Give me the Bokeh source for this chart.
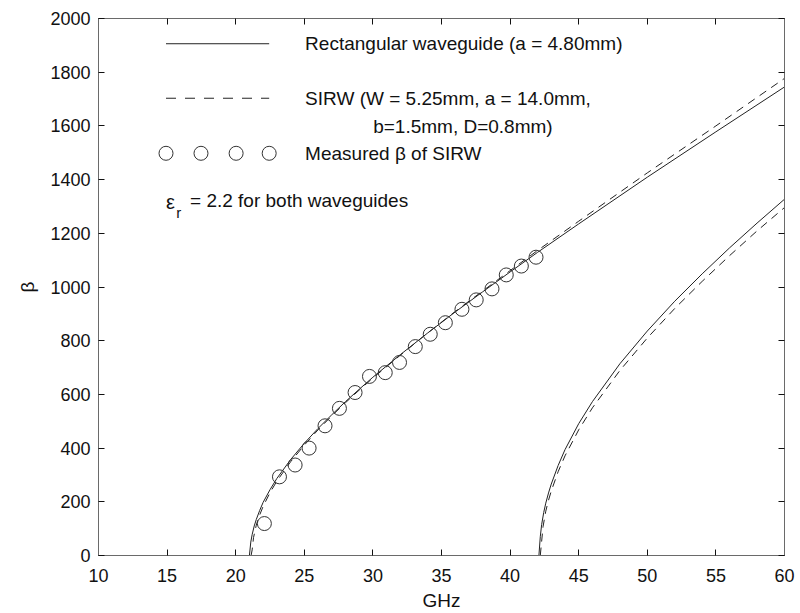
from bokeh.plotting import figure
from bokeh.models import Range1d, LinearAxis, FixedTicker, Label
from bokeh.embed import file_html
from bokeh.resources import INLINE

# ---------------- data ----------------
x_ticks = [10, 15, 20, 25, 30, 35, 40, 45, 50, 55, 60]
y_ticks = [0, 200, 400, 600, 800, 1000, 1200, 1400, 1600, 1800, 2000]

# Rectangular waveguide (a = 4.80mm), first mode
rect1_f = [21.0, 21.1, 21.2, 21.35, 21.5, 21.75, 22, 22.5, 23, 24, 25, 26, 27, 28, 29, 30,
           32, 34, 36, 38, 40, 42, 45, 50, 55, 60]
rect1_b = [0, 50, 78, 110, 134, 168, 198, 245, 287, 357, 418, 473, 524, 573, 619, 664,
           748, 829, 907, 982, 1056, 1129, 1235, 1409, 1578, 1745]

# Rectangular waveguide, second mode
rect2_f = [42.1, 42.2, 42.3, 42.45, 42.6, 42.8, 43, 43.5, 44, 45, 46, 48, 50, 52, 54, 56, 58, 60]
rect2_b = [0, 70, 115, 160, 195, 233, 266, 335, 394, 491, 573, 714, 836, 947, 1049, 1146, 1238, 1327]

# SIRW, first mode
sirw1_f = [21.12, 21.2, 21.3, 21.5, 21.7, 22, 22.5, 23, 24, 25, 26, 27, 28, 29, 30,
           32, 34, 36, 38, 40, 42, 45, 50, 55, 60]
sirw1_b = [0, 21, 67, 113, 145, 183, 234, 277, 349, 411, 468, 520, 569, 616, 661,
           746, 829, 909, 985, 1061, 1136, 1245, 1425, 1600, 1777]

# SIRW, second mode
sirw2_f = [42.2, 42.4, 42.6, 42.8, 43, 43.5, 44, 45, 46, 48, 50, 52, 54, 56, 58, 60]
sirw2_b = [0, 107, 165, 206, 240, 312, 371, 468, 550, 689, 810, 920, 1021, 1117, 1209, 1296]

# Measured beta of SIRW
meas_f = [22.09, 23.19, 24.33, 25.35, 26.51, 27.56, 28.70, 29.75, 30.90, 31.94,
          33.09, 34.18, 35.28, 36.49, 37.53, 38.68, 39.72, 40.82, 41.89]
meas_b = [119, 293, 337, 400, 483, 548, 607, 667, 681, 719,
          778, 824, 867, 917, 952, 993, 1045, 1078, 1111]

# ---------------- layout constants ----------------
FONT = "Liberation Sans"
INK = "#222222"
FRAME = "#6a6a6a"
DASH = "8 6"

# legend placement (data units)
LEG_X0, LEG_X1 = 14.92, 22.44
LEG_CIRC_X = [14.92, 17.47, 20.03, 22.44]
LEG_TEXT_X = 25.06
LEG_TEXT2_X = 30.02
LEG_Y = [1906, 1703, 1599, 1498, 1318]

p = figure(width=800, height=613,
           x_range=Range1d(10, 60), y_range=Range1d(0, 2000),
           output_backend="svg", toolbar_location=None,
           min_border_left=98, min_border_right=16,
           min_border_top=18, min_border_bottom=57)

p.grid.visible = False
p.outline_line_color = FRAME
p.background_fill_color = "white"
p.border_fill_color = "white"

def style_axis(ax, ticks, show_labels=True):
    ax.ticker = FixedTicker(ticks=ticks)
    ax.axis_line_color = FRAME
    ax.major_tick_line_color = "#111111"
    ax.major_tick_in = 6
    ax.major_tick_out = 0
    ax.minor_tick_line_color = None
    ax.major_label_text_font = FONT
    ax.major_label_text_color = "#111111"
    ax.major_label_text_font_size = "18px"
    if not show_labels:
        ax.major_label_overrides = {t: "" for t in ticks}
        ax.major_label_standoff = 0

style_axis(p.xaxis[0], x_ticks)
style_axis(p.yaxis[0], y_ticks)
p.xaxis[0].major_label_standoff = 13
p.yaxis[0].major_label_standoff = 8
p.xaxis[0].axis_label = "GHz"
p.yaxis[0].axis_label = "β"
for ax in (p.xaxis[0], p.yaxis[0]):
    ax.axis_label_text_font = FONT
    ax.axis_label_text_font_style = "normal"
    ax.axis_label_text_font_size = "19px"
    ax.axis_label_text_color = "#111111"
p.xaxis[0].axis_label_standoff = 5
p.yaxis[0].axis_label_standoff = 9

top_ax = LinearAxis()
style_axis(top_ax, x_ticks, show_labels=False)
p.add_layout(top_ax, "above")
right_ax = LinearAxis()
style_axis(right_ax, y_ticks, show_labels=False)
p.add_layout(right_ax, "right")

# curves
p.line(rect1_f, rect1_b, line_color=INK, line_width=1)
p.line(rect2_f, rect2_b, line_color=INK, line_width=1)
p.line(sirw1_f, sirw1_b, line_color=INK, line_width=1, line_dash=DASH)
p.line(sirw2_f, sirw2_b, line_color=INK, line_width=1, line_dash=DASH)
p.scatter(meas_f, meas_b, marker="circle", size=14, fill_color=None,
          line_color="#333333", line_width=1)

# legend (drawn by hand to match the reference layout)
p.line([LEG_X0, LEG_X1], [LEG_Y[0], LEG_Y[0]], line_color=INK, line_width=1)
p.line([LEG_X0, LEG_X1], [LEG_Y[1], LEG_Y[1]], line_color=INK, line_width=1, line_dash="10 9")
p.scatter(LEG_CIRC_X, [LEG_Y[3]] * 4, marker="circle", size=14, fill_color=None,
          line_color="#333333", line_width=1)

def add_text(x, y, txt, size="19px"):
    p.add_layout(Label(x=x, y=y, text=txt, text_font=FONT, text_font_size=size,
                       text_color="#111111", text_baseline="middle", text_align="left"))

add_text(LEG_TEXT_X, LEG_Y[0], "Rectangular waveguide (a = 4.80mm)")
add_text(LEG_TEXT_X, LEG_Y[1], "SIRW (W = 5.25mm, a = 14.0mm,")
add_text(LEG_TEXT2_X, LEG_Y[2], "b=1.5mm, D=0.8mm)")
add_text(LEG_TEXT_X, LEG_Y[3], "Measured β of SIRW")
add_text(LEG_X0, LEG_Y[4], "ε", size="20px")
add_text(LEG_X0 + 0.75, LEG_Y[4] - 42, "r", size="15px")
add_text(LEG_X0 + 1.75, LEG_Y[4] + 6, "= 2.2 for both waveguides")

open("out.html", "w").write(file_html(p, INLINE))
